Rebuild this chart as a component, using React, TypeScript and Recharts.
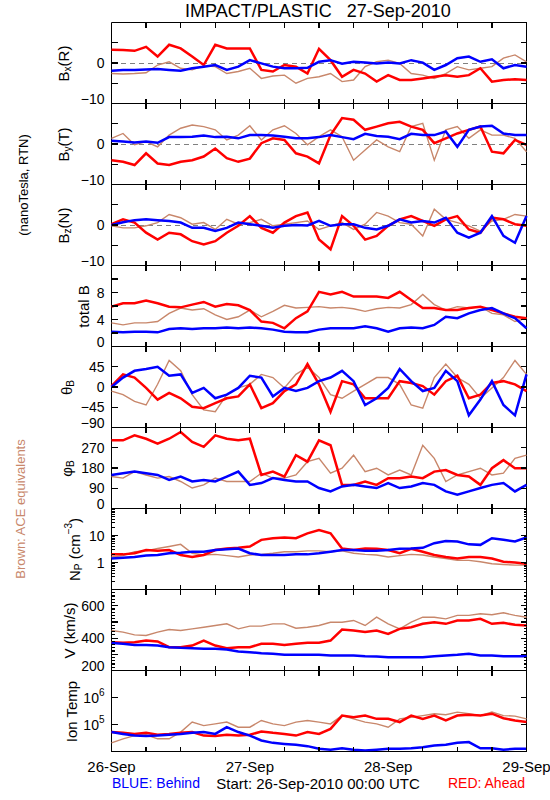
import React from "react";
import { LineChart, Line, XAxis, YAxis, ReferenceLine, ReferenceArea } from "recharts";

// hours since 26-Sep-2010 00:00 UTC
const HOURS = [0, 2, 4, 6, 8, 10, 12, 14, 16, 18, 20, 22, 24, 26, 28, 30, 32, 34, 36, 38, 40, 42, 44, 46, 48, 50, 52, 54, 56, 58, 60, 62, 64, 66, 68, 70, 72];

// Bx(R), nT
const BX_RED = [3.3, 3.2, 3, 4, 1.6, 4.5, 3.6, 1.6, -0.5, 4.5, 3.6, 3.6, 3.6, -1.7, -2.1, -0.5, -0.9, -2.6, 3.5, 0.7, -3.4, -1.7, -2.6, -4.6, -3, -4.2, -4.2, -3.8, -3.4, -3, -3.4, -3, -1.3, -4.6, -4.2, -4, -4.2];
const BX_BLUE = [-1.9, -1.7, -1.7, -1.6, -1.5, -1.7, -1.9, -1.3, -0.9, -0.5, -1.7, -0.9, 0.7, -0.1, -0.9, -1.3, -1.3, -1.2, 0.3, 0.7, -0.2, 0.3, 0.1, -0.1, 0.1, -0.1, 0.7, 0.1, -1.7, -0.5, 1.2, 1.6, 0.3, 0.9, -1.3, -0.5, -0.9];
const BX_BROWN = [-2.6, -2.7, -2.6, -2.4, -0.5, 0.3, -1.3, -1.7, -0.7, -0.9, -2.6, -2.1, -1.3, -3.8, -3.2, -3, -5, -3.8, -3.4, -2.6, -4.6, -4.2, -0.9, 0.3, 0.7, -0.1, -2.6, -3, -3.8, -2.6, -0.9, -1.7, -1.3, -0.9, 1.2, 2, 0.3];

// By(T), nT
const BY_RED = [-4, -4.4, -5.2, -2.3, -4.8, -5.2, -4.4, -4, -3.1, -1.1, -3.5, -4.4, -3.6, 0.2, 1.4, 1, -2.3, -3.1, -4.8, 2.2, 6.4, 6, 3.5, 4.3, 5.1, 5.5, 4.3, 3.5, 0.2, 1.4, 2.6, 3.5, 4.3, -1.9, -2.3, 1, -0.2];
const BY_BLUE = [0.8, 0.6, 0.4, 0.6, 0.3, 1.7, 1.7, 1.8, 2.1, 1.7, 1.8, 1.4, 2.2, 2.2, 2.1, 1.8, 1.4, 1.4, 1.7, 2.2, 1.7, 1.2, 2.5, 2, 1.8, 1.2, 2.5, 2.2, 2.2, 3.1, -0.7, 3.5, 4.3, 4.5, 2.6, 2.2, 2.2];
const BY_BROWN = [1.4, 2.6, -0.2, 0.6, -0.7, 2.2, 3.9, 4.7, 4.3, 3.5, 1, 2.2, 4.5, 1, 3.5, 4.5, 2.6, -0.2, 1.8, 3.5, 1.8, -4, -1.5, 1, -0.7, -1.9, 4.3, 5.1, -4, 3.5, 4.3, 1.4, 3.5, 2.2, 2.2, 1.4, -1.9];

// Bz(N), nT
const BZ_RED = [0.2, 1.4, 0.6, -1.9, -3.6, -1.9, -2.3, -4, -4.8, -4, -1.9, -0.2, 2.2, -0.7, -1.9, 0.6, 2.2, 3.1, -3.6, -6, 2.2, -0.2, -3.6, -2.7, -0.2, 1.4, 2.2, 1, -0.2, 1.4, 2.2, -1.1, -1.9, 1.8, 1.4, 0.2, -0.2];
const BZ_BLUE = [0, 0.7, 1.2, 1.4, 1.2, 1, 0.6, -0.7, -0.7, -1.5, -0.7, 0.6, 0.2, -0.2, -0.7, -0.2, 0, -0.1, 1, -0.2, 0.2, 0.2, -0.7, -1.1, -0.2, 1.4, 0.6, 1, 0.6, 1.8, -1.9, -3.1, -1.9, 2.2, -2.7, -4.4, 2.2];
const BZ_BROWN = [-0.2, -0.7, -0.7, -0.2, 0.6, 2.6, 1.8, 0.2, 0.6, -1.1, 1.4, 0.2, 0.6, 1.4, -0.2, 0.2, 0.6, 1, -1.1, -0.2, 0.6, -1.1, 0.2, 3.1, 2.2, 0.6, 0.2, -2.7, 3.9, 1.4, 0.6, -0.2, -1.5, 1, 1.4, 2.6, 2.2];

// total B, nT
const BT_RED = [5.9, 6.4, 6.4, 6.8, 6.4, 5.9, 5.8, 6.2, 6.6, 5.9, 6.3, 6.1, 5.4, 3.7, 3.5, 2.7, 4.2, 5.2, 8.1, 7.7, 8.1, 7.4, 7.4, 7.4, 7.2, 8.1, 6.9, 5.7, 5.7, 5.4, 5.4, 5.7, 5.9, 5.4, 4.9, 4.4, 4.2];
const BT_BLUE = [2.2, 2.1, 2.2, 2.2, 2.1, 2.6, 2.7, 2.6, 2.7, 2.7, 2.8, 2.7, 2.8, 2.7, 2.5, 2.2, 2.1, 2.1, 2.5, 2.7, 2.7, 2.7, 3, 2.7, 2.2, 2.7, 2.8, 2.7, 3.2, 4.4, 4.2, 4.9, 5.4, 5.7, 4.9, 4.2, 2.7];
const BT_BROWN = [3.5, 3.2, 3.5, 3.5, 3.7, 4.9, 5.7, 5.4, 5.6, 4.7, 4, 4.4, 5.4, 4.4, 5.2, 6.1, 5.7, 5.8, 5.9, 5.7, 5.8, 5.6, 5.2, 5.6, 5.8, 5.7, 6.2, 7.7, 6.2, 5.4, 5.9, 5.7, 5.9, 4.9, 4.7, 3.7, 4.2];

// theta_B, deg
const THETA_RED = [2, 28, 21, -2, -28, -13, -25, -44, -47, -36, -25, -21, 6, -47, -36, -9, 6, 51, 6, -55, 13, 6, -25, -25, -25, 13, 9, 2, -17, 13, 25, -25, -17, 9, 13, 6, -9];
const THETA_BLUE = [0, 21, 36, 40, 45, 25, 28, -13, -2, -25, -17, -2, 25, 21, -21, -2, -9, -2, 13, 21, 36, 13, -40, -25, -2, 40, 13, -9, -2, 36, 13, -63, -28, 13, -40, -63, 28];
const THETA_BROWN = [-9, -17, -32, -40, 6, 59, 36, -17, -51, -55, -17, -2, 6, 28, 21, -2, 28, 44, 21, -17, -25, -9, 6, 21, 21, 6, -40, -47, 21, 51, 21, 6, -25, -2, 21, 59, 28];

// phi_B, deg
const PHI_RED = [303, 303, 325, 310, 288, 310, 340, 296, 274, 325, 310, 303, 310, 149, 164, 142, 237, 208, 303, 281, 105, 105, 120, 105, 135, 135, 142, 135, 164, 171, 149, 142, 105, 179, 215, 179, 179];
const PHI_BLUE = [149, 157, 164, 157, 149, 127, 142, 120, 127, 120, 142, 164, 105, 113, 135, 127, 120, 120, 91, 76, 98, 105, 98, 91, 113, 91, 98, 113, 105, 76, 61, 76, 91, 105, 113, 76, 105];
const PHI_BROWN = [142, 135, 164, 149, 135, 142, 120, 91, 105, 135, 120, 120, 120, 157, 135, 135, 149, 208, 223, 157, 179, 237, 164, 179, 149, 171, 149, 281, 223, 120, 149, 164, 179, 149, 157, 223, 237];

// proton density, cm^-3
const NP_RED = [2, 2, 2.2, 2.9, 2.7, 2.9, 1.9, 1.6, 1.9, 2.9, 3.3, 3.5, 3.9, 6.9, 7.9, 8.4, 7.9, 12, 16, 12, 3.3, 2.9, 3.3, 3.2, 2.9, 2.2, 3.2, 2.5, 1.9, 1.6, 1.4, 1.6, 1.6, 1.4, 1.06, 1, 0.9];
const NP_BLUE = [1.4, 1.5, 1.6, 1.8, 1.9, 2.2, 2.3, 2.5, 2.5, 2.9, 3.1, 3.3, 2.2, 1.9, 1.9, 1.9, 2, 2, 2.2, 2.5, 2.9, 2.9, 2.7, 2.7, 2.9, 3.2, 3.3, 3.5, 5.2, 6.3, 6, 4.7, 4.5, 7.9, 6.9, 6, 8.4];
const NP_BROWN = [1.6, 1.8, 2.5, 2.7, 3.3, 3.9, 4.7, 2.2, 1.9, 2, 1.8, 1.6, 1.9, 2, 2.2, 2.5, 2.5, 2.7, 2.7, 2.5, 2.7, 2.2, 2, 1.9, 1.6, 1.8, 2, 1.9, 1.6, 1.4, 1.2, 1.2, 1.06, 0.9, 0.84, 0.8, 0.8];

// bulk speed, km/s
const V_RED = [375, 371, 375, 385, 379, 344, 344, 354, 385, 354, 338, 344, 344, 365, 365, 358, 365, 371, 371, 385, 453, 447, 437, 447, 426, 457, 467, 488, 498, 488, 509, 509, 519, 488, 494, 482, 478];
const V_BLUE = [369, 365, 358, 358, 354, 344, 340, 338, 334, 334, 330, 317, 313, 307, 303, 297, 297, 297, 297, 293, 293, 293, 288, 286, 282, 282, 282, 282, 288, 293, 297, 303, 293, 293, 288, 288, 288];
const V_BROWN = [447, 437, 420, 416, 437, 453, 447, 457, 467, 478, 488, 457, 474, 474, 488, 488, 461, 467, 478, 498, 498, 509, 478, 529, 488, 457, 498, 529, 529, 519, 540, 540, 550, 544, 556, 540, 529];

// ion temperature, K
const T_RED = [52500, 49000, 44700, 49000, 41700, 44700, 49000, 52500, 38900, 37200, 41700, 38900, 41700, 55000, 49000, 44700, 38900, 52500, 44700, 69000, 214000, 186000, 214000, 162000, 162000, 123000, 214000, 162000, 214000, 141000, 214000, 229000, 214000, 251000, 170000, 141000, 123000];
const T_BLUE = [52500, 44700, 38900, 37200, 38900, 41700, 44700, 49000, 52500, 44700, 79400, 52500, 38900, 25700, 20900, 19100, 17800, 15800, 12600, 11700, 13200, 11700, 11000, 11700, 12600, 12600, 13200, 14500, 16600, 17800, 20900, 22400, 13200, 13200, 11700, 12600, 12600];
const T_BROWN = [20900, 29500, 38900, 41700, 29500, 29500, 52500, 123000, 91000, 105000, 123000, 79400, 79400, 141000, 105000, 91000, 123000, 141000, 123000, 105000, 214000, 162000, 123000, 105000, 79400, 162000, 186000, 214000, 251000, 229000, 288000, 251000, 214000, 288000, 214000, 204000, 162000];

const X_TICKS = [0, 6, 12, 18, 24, 30, 36, 42, 48, 54, 60, 66, 72];
const DATE_LABELS: Record<number, string> = { 0: "26-Sep", 24: "27-Sep", 48: "28-Sep", 72: "29-Sep" };

const RED = "#ff0000";
const BLUE = "#0000ff";
const BROWN = "#c8876b";
const FONT = "'Liberation Sans', Arial, Helvetica, sans-serif";

const W = 550;
const PH = 81; // plot height of one panel
const TOP0 = 23; // top edge of the first panel
const PL = 111.5;
const PR = 526.5;
const PT = 1.5;
const PB = PT + PH;
const YW = 60;

function stepTicks(lo: number, hi: number, step: number) {
  const out: number[] = [];
  for (let v = lo; v <= hi; v += step) out.push(v);
  return out;
}

function logTicks(lo: number, hi: number) {
  const out: number[] = [];
  for (let e = lo; e < hi; e++) for (let d = 1; d < 10; d++) out.push(+(d * Math.pow(10, e)).toPrecision(3));
  out.push(Math.pow(10, hi));
  return out;
}

const sup = (base: string, exp: string) => (
  <>
    {base}
    <tspan dy={-6} fontSize={10}>{exp}</tspan>
  </>
);

type Panel = {
  red: number[];
  blue: number[];
  brown: number[];
  domain: [number, number];
  log?: boolean;
  ticks: number[];
  major: (v: number) => boolean;
  labels: Record<string, React.ReactNode>;
  zero?: boolean;
  title: React.ReactNode;
  titleX: number;
};

const B_TICKS = [-10, -5, 0, 5, 10];
const B_LABELS = { "0": "0", "-10": "\u221210" };
const all = () => true;

const PANELS: Panel[] = [
  {
    red: BX_RED, blue: BX_BLUE, brown: BX_BROWN, domain: [-10, 10], ticks: B_TICKS, major: all, labels: B_LABELS, zero: true, titleX: 63,
    title: <>B<tspan dy={4} fontSize={10}>x</tspan><tspan dy={-4}>(R)</tspan></>,
  },
  {
    red: BY_RED, blue: BY_BLUE, brown: BY_BROWN, domain: [-10, 10], ticks: B_TICKS, major: all, labels: B_LABELS, zero: true, titleX: 63,
    title: <>B<tspan dy={4} fontSize={10}>y</tspan><tspan dy={-4}>(T)</tspan></>,
  },
  {
    red: BZ_RED, blue: BZ_BLUE, brown: BZ_BROWN, domain: [-10, 10], ticks: B_TICKS, major: all, labels: B_LABELS, zero: true, titleX: 63,
    title: <>B<tspan dy={4} fontSize={10}>z</tspan><tspan dy={-4}>(N)</tspan></>,
  },
  {
    red: BT_RED, blue: BT_BLUE, brown: BT_BROWN, domain: [0, 12], ticks: stepTicks(0, 12, 2), major: all,
    labels: { "0": "0", "4": "4", "8": "8" }, titleX: 83, title: "total B",
  },
  {
    red: THETA_RED, blue: THETA_BLUE, brown: THETA_BROWN, domain: [-90, 90], ticks: [-90, -45, 0, 45, 90], major: all,
    labels: { "45": "45", "0": "0", "-45": "\u221245", "-90": "\u221290" }, titleX: 66,
    title: <>{"\u03b8"}<tspan dy={4} fontSize={10}>B</tspan></>,
  },
  {
    red: PHI_RED, blue: PHI_BLUE, brown: PHI_BROWN, domain: [0, 360], ticks: [0, 90, 180, 270, 360], major: all,
    labels: { "0": "0", "90": "90", "180": "180", "270": "270" }, titleX: 66,
    title: <>{"\u03c6"}<tspan dy={4} fontSize={10}>B</tspan></>,
  },
  {
    red: NP_RED, blue: NP_BLUE, brown: NP_BROWN, domain: [0.1, 100], log: true, ticks: logTicks(-1, 2),
    major: (v) => [0.1, 1, 10, 100].includes(v), labels: { "1": "1", "10": "10" }, titleX: 74,
    title: <>N<tspan dy={4} fontSize={10}>P</tspan><tspan dy={-4}> (cm</tspan><tspan dy={-6} fontSize={10}>{"\u22123"}</tspan><tspan dy={6}>)</tspan></>,
  },
  {
    red: V_RED, blue: V_BLUE, brown: V_BROWN, domain: [200, 700], ticks: stepTicks(200, 700, 20),
    major: (v) => v % 100 === 0, labels: { "200": "200", "400": "400", "600": "600" }, titleX: 69, title: "V (km/s)",
  },
  {
    red: T_RED, blue: T_BLUE, brown: T_BROWN, domain: [1e4, 1e7], log: true, ticks: [1e4, 1e5, 1e6, 1e7], major: all,
    labels: { "100000": sup("10", "5"), "1000000": sup("10", "6") }, titleX: 71, title: "Ion Temp",
  },
];

function PanelChart({ p, index, last }: { p: Panel; index: number; last: boolean }) {
  const data = HOURS.map((h, i) => ({ h, red: p.red[i], blue: p.blue[i], brown: p.brown[i] }));
  const extra = last ? 26 : 8;
  const height = PT + PH + 0.5 + extra;
  const [lo, hi] = p.domain;

  // tick lengths given in pixels, turned into data units of this panel
  const dx = (px: number) => (px * 72) / (PR - PL);
  const yUp = (px: number) => (p.log ? lo * Math.pow(hi / lo, px / PH) : lo + ((hi - lo) * px) / PH);
  const yDown = (px: number) => (p.log ? hi / Math.pow(hi / lo, px / PH) : hi - ((hi - lo) * px) / PH);

  const leftTick = (props: any) => {
    const { y, payload } = props;
    const v = payload.value;
    const lab = p.labels[String(v)];
    if (lab === undefined) return <g />;
    const lift = v === lo ? -5 : 0;
    return (
      <text x={PL - 7} y={y + lift} textAnchor="end" dominantBaseline="central" fontSize={14} fontFamily={FONT} fill="#000">
        {lab}
      </text>
    );
  };
  const bottomTick = (props: any) => {
    const { x, payload } = props;
    const lab = last ? DATE_LABELS[payload.value] : undefined;
    if (!lab) return <g />;
    return (
      <text x={x} y={PB + 15} textAnchor="middle" dominantBaseline="central" fontSize={15} fontFamily={FONT} fill="#000">
        {lab}
      </text>
    );
  };

  const tickStyle = { stroke: "#000", strokeWidth: 1.2, shapeRendering: "crispEdges" as const, ifOverflow: "visible" as const };

  return (
    <div style={{ position: "absolute", left: 0, top: TOP0 + index * PH - 2 }}>
      <LineChart
        width={W}
        height={height}
        data={data}
        margin={{ top: PT, right: W - PR, bottom: extra - 0.5, left: PL - YW }}
      >
        <XAxis
          type="number"
          dataKey="h"
          domain={[0, 72]}
          ticks={X_TICKS}
          interval={0}
          height={1}
          axisLine={false}
          tickLine={false}
          tick={bottomTick}
        />
        <YAxis
          type="number"
          domain={p.domain}
          scale={p.log ? "log" : "linear"}
          allowDataOverflow
          ticks={p.ticks}
          interval={0}
          width={YW}
          axisLine={false}
          tickLine={false}
          tick={leftTick}
        />
        {p.zero && <ReferenceLine y={0} stroke="#808080" strokeDasharray="5 4" shapeRendering="crispEdges" />}
        <Line type="linear" dataKey="brown" stroke={BROWN} strokeWidth={1.4} dot={false} isAnimationActive={false} />
        <Line type="linear" dataKey="red" stroke={RED} strokeWidth={2.5} dot={false} isAnimationActive={false} />
        <Line type="linear" dataKey="blue" stroke={BLUE} strokeWidth={2.5} dot={false} isAnimationActive={false} />
        {p.ticks.map((v) => {
          const len = dx(p.major(v) ? 6 : 3);
          return (
            <React.Fragment key={"y" + v}>
              <ReferenceLine segment={[{ x: 0, y: v }, { x: len, y: v }]} {...tickStyle} />
              <ReferenceLine segment={[{ x: 72, y: v }, { x: 72 - len, y: v }]} {...tickStyle} />
            </React.Fragment>
          );
        })}
        {X_TICKS.map((t) => (
          <React.Fragment key={"x" + t}>
            <ReferenceLine segment={[{ x: t, y: lo }, { x: t, y: yUp(5) }]} {...tickStyle} />
            <ReferenceLine segment={[{ x: t, y: hi }, { x: t, y: yDown(5) }]} {...tickStyle} />
          </React.Fragment>
        ))}
        <ReferenceArea
          x1={0}
          x2={72}
          y1={lo}
          y2={hi}
          fill="none"
          fillOpacity={0}
          stroke="#000"
          strokeWidth={1}
          ifOverflow="visible"
        />
      </LineChart>
    </div>
  );
}

export default function App() {
  return (
    <div style={{ position: "absolute", left: 0, top: 0, width: W, height: 800, background: "#fff" }}>
      {PANELS.map((p, i) => (
        <PanelChart key={i} p={p} index={i} last={i === PANELS.length - 1} />
      ))}
      <svg width={W} height={800} style={{ position: "absolute", left: 0, top: 0, pointerEvents: "none" }} fontFamily={FONT}>
        <text x={318} y={17} textAnchor="middle" fontSize={18} fill="#000" style={{ whiteSpace: "pre" }}>
          {"IMPACT/PLASTIC   27-Sep-2010"}
        </text>
        <text transform="translate(23,185) rotate(-90)" textAnchor="middle" dominantBaseline="central" fontSize={13} fill="#000">
          (nanoTesla, RTN)
        </text>
        <text transform="translate(20,509) rotate(-90)" textAnchor="middle" dominantBaseline="central" fontSize={13} fill={BROWN}>
          Brown: ACE equivalents
        </text>
        {PANELS.map((p, i) => (
          <text
            key={i}
            transform={`translate(${p.titleX},${TOP0 + i * PH + PH / 2}) rotate(-90)`}
            textAnchor="middle"
            dominantBaseline="central"
            fontSize={15}
            fill="#000"
          >
            {p.title}
          </text>
        ))}
        <text x={112} y={783} dominantBaseline="central" fontSize={14} fill={BLUE}>
          BLUE: Behind
        </text>
        <text x={318} y={783} textAnchor="middle" dominantBaseline="central" fontSize={15} fill="#000">
          Start: 26-Sep-2010 00:00 UTC
        </text>
        <text x={525} y={783} textAnchor="end" dominantBaseline="central" fontSize={14} fill={RED}>
          RED: Ahead
        </text>
      </svg>
    </div>
  );
}
